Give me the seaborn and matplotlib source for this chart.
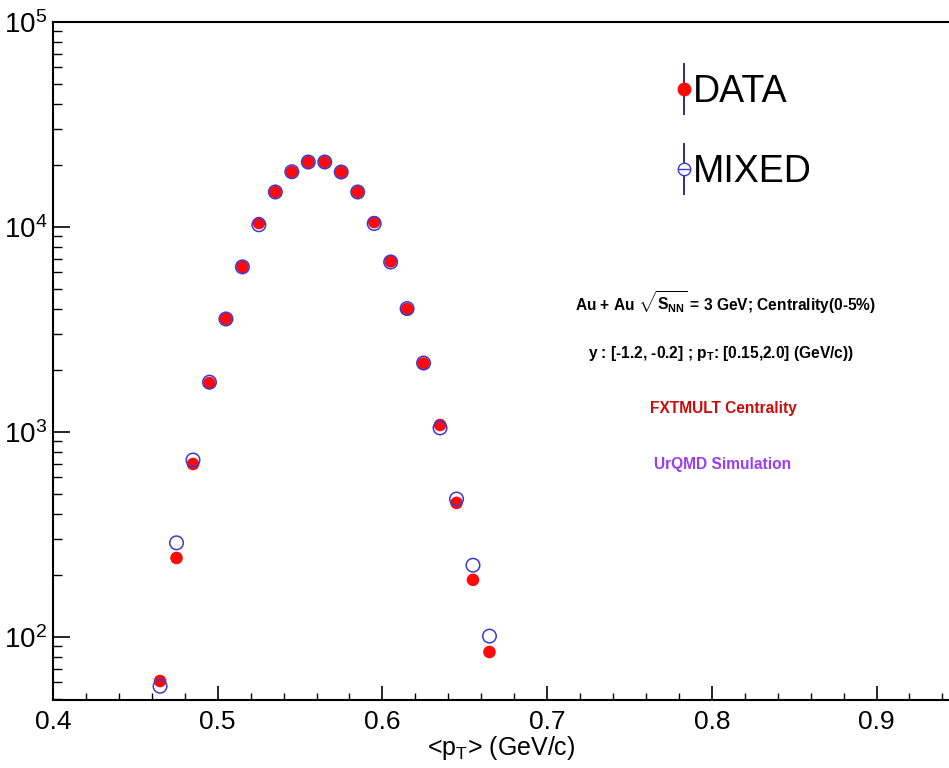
import numpy as np
import pandas as pd
import matplotlib
matplotlib.use("Agg")
import matplotlib.pyplot as plt
from matplotlib.lines import Line2D
from matplotlib.legend_handler import HandlerTuple
from matplotlib.ticker import MultipleLocator, LogLocator, NullFormatter, FormatStrFormatter
import seaborn as sns

# ---- data ----
mean_pt = [0.465, 0.475, 0.485, 0.495, 0.505, 0.515, 0.525, 0.535, 0.545, 0.555, 0.565,
           0.575, 0.585, 0.595, 0.605, 0.615, 0.625, 0.635, 0.645, 0.655, 0.665]
data_counts = [61, 243, 698, 1734, 3560, 6390, 10450, 14820, 18540, 20750, 20750,
               18540, 14820, 10570, 6800, 3980, 2160, 1082, 451, 190, 84.5]
mixed_counts = [57.5, 288, 730, 1750, 3560, 6390, 10250, 14820, 18600, 20750, 20750,
                18540, 14820, 10400, 6750, 4000, 2170, 1047, 471, 224, 101]
x_ticks = [0.4, 0.5, 0.6, 0.7, 0.8, 0.9]
labels = ["DATA", "MIXED"]
notes = [r"Au + Au $\sqrt{\mathbf{S}_{\mathbf{NN}}}$ = 3 GeV; Centrality(0-5%)",
         r"y : [-1.2, -0.2] ; p$_{\mathbf{T}}$: [0.15,2.0] (GeV/c))",
         "FXTMULT Centrality",
         "UrQMD Simulation"]

df = pd.DataFrame({"pt": mean_pt, "data": data_counts, "mixed": mixed_counts})

sns.set_style("ticks")
plt.rcParams["font.family"] = ["Liberation Sans", "DejaVu Sans"]
plt.rcParams["mathtext.fontset"] = "custom"
plt.rcParams["mathtext.rm"] = "Liberation Sans"
plt.rcParams["mathtext.bf"] = "Liberation Sans:bold"
plt.rcParams["mathtext.it"] = "Liberation Sans:italic"
for k in ["text.color", "axes.labelcolor", "xtick.color", "ytick.color", "axes.edgecolor"]:
    plt.rcParams[k] = "black"

W, H = 949, 768
fig = plt.figure(figsize=(W / 100, H / 100), dpi=100)
ax = fig.add_axes([53 / W, 1 - 700 / H, 1 - 53 / W, (700 - 22) / H])

red = "#ff0a0a"
blue = "#3a3ad8"
navy = "#1c1c8a"

sns.scatterplot(data=df, x="pt", y="data", ax=ax, color=red, marker="o", s=82,
                edgecolor="none", linewidth=0, zorder=3, legend=False)
sns.scatterplot(data=df, x="pt", y="mixed", ax=ax, marker="o", s=95,
                facecolor="none", edgecolor=blue, linewidth=1.1, zorder=4, legend=False)

ax.set_yscale("log")
ax.set_xlim(0.4, 0.4 + (W - 53) / 1647)
ax.set_ylim(10 ** (2 - 63 / 205), 1e5)

ax.xaxis.set_minor_locator(MultipleLocator(0.02))
ax.set_xticks(x_ticks)
ax.xaxis.set_major_formatter(FormatStrFormatter("%.1f"))
ax.yaxis.set_major_locator(LogLocator(base=10, numticks=10))
ax.yaxis.set_minor_locator(LogLocator(base=10, subs=np.arange(2, 10), numticks=20))
ax.yaxis.set_minor_formatter(NullFormatter())

ax.tick_params(axis="x", which="major", direction="in", length=10, width=1.2, labelsize=19, pad=7)
ax.tick_params(axis="x", which="minor", direction="in", length=5, width=1.0)
ax.tick_params(axis="y", which="major", direction="in", length=12.5, width=1.2, labelsize=20, pad=4)
ax.tick_params(axis="y", which="minor", direction="in", length=6.5, width=1.0)

for side in ["left", "bottom", "top"]:
    ax.spines[side].set_linewidth(1.5)
    ax.spines[side].set_color("black")
ax.spines["right"].set_visible(False)

ax.set_xlabel("<p" + r"$_{\mathrm{T}}$" + "> (GeV/c)", fontsize=18, labelpad=0)
ax.set_ylabel("")

# legend
h_data = (Line2D([], [], ls="none", marker="|", markersize=37, markeredgewidth=1.3, color=navy),
          Line2D([], [], ls="none", marker="o", markersize=9, color=red, markeredgecolor=red))
h_mixed = (Line2D([], [], ls="none", marker="|", markersize=37, markeredgewidth=1.3, color=navy),
           Line2D([], [], ls="none", marker="o", markersize=9, markerfacecolor="white",
                  markeredgecolor=blue, markeredgewidth=1.0),
           Line2D([], [], ls="none", marker="_", markersize=9, markeredgewidth=1.0, color=blue))
leg = ax.legend([h_data, h_mixed], labels, handler_map={tuple: HandlerTuple(ndivide=1, pad=0)},
                loc="center left", bbox_to_anchor=(676.5 / W, 1 - 132 / H),
                bbox_transform=fig.transFigure, frameon=False, fontsize=27,
                handlelength=0.4, handletextpad=0.05, borderpad=0, borderaxespad=0,
                labelspacing=1.18)

# annotations
fig.text(725 / W, 1 - 303 / H, notes[0], ha="center", va="center", fontsize=11.2, fontweight="bold")
fig.text(721 / W, 1 - 353 / H, notes[1], ha="center", va="center", fontsize=11.2, fontweight="bold")
fig.text(723 / W, 1 - 409 / H, notes[2], ha="center", va="center", fontsize=11.2, fontweight="bold",
         color="#cc0a0a")
fig.text(723 / W, 1 - 465 / H, notes[3], ha="center", va="center", fontsize=11.2, fontweight="bold",
         color="#9b3cf6")

fig.savefig("out.png", dpi=100)
